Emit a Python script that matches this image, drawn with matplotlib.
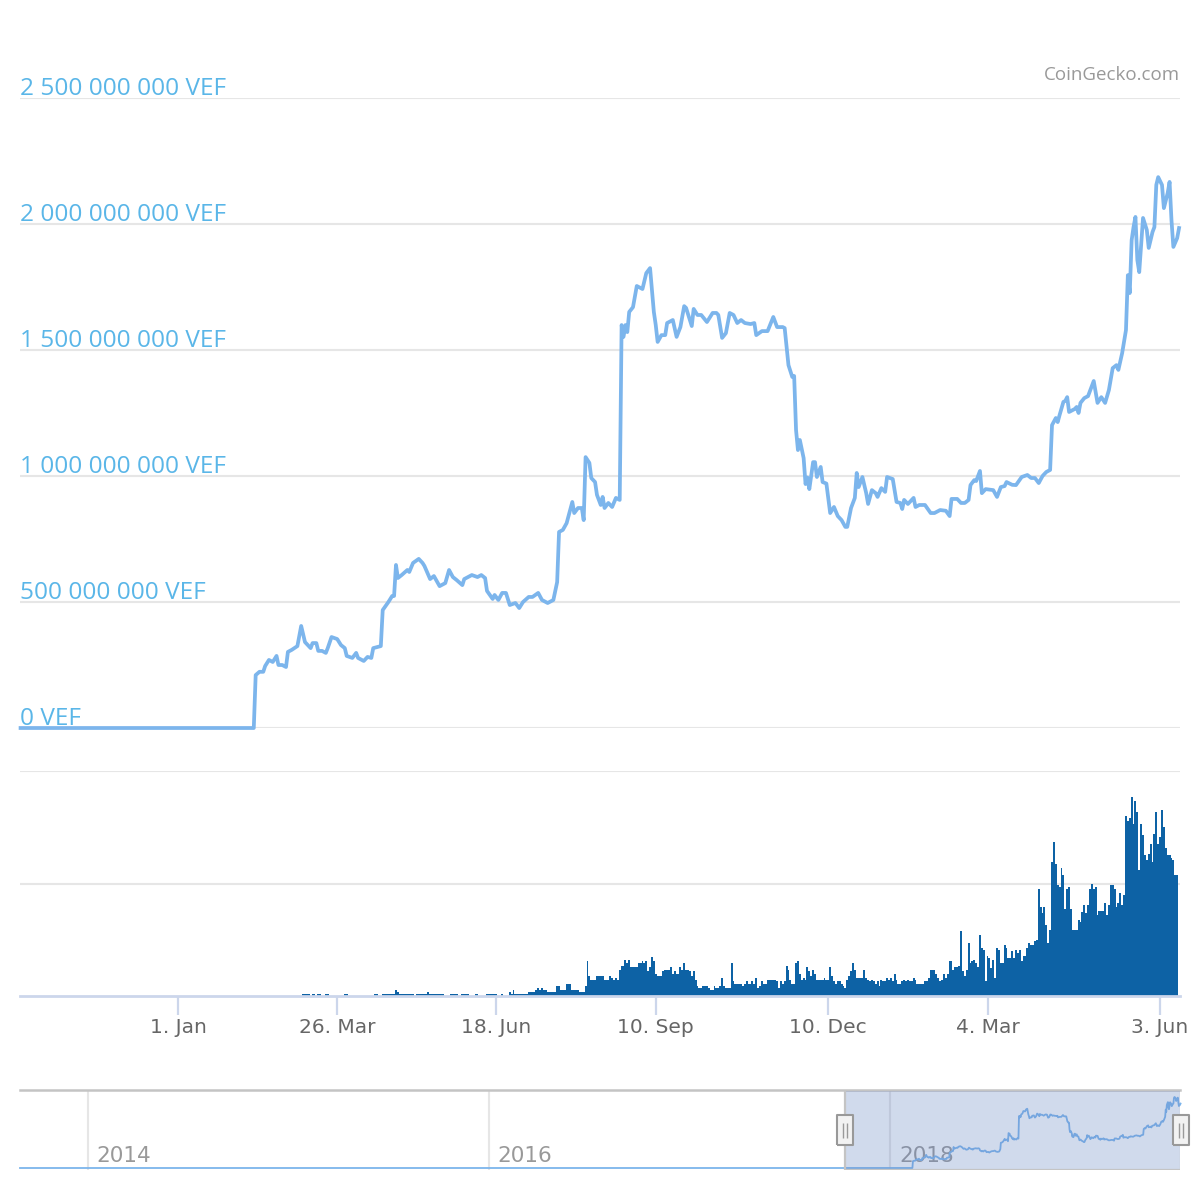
import matplotlib
matplotlib.use("Agg")
import matplotlib.pyplot as plt
import matplotlib.dates as mdates
import pandas as pd
from matplotlib.path import Path
from matplotlib.transforms import blended_transform_factory

plt.rcParams["font.family"] = ["Open Sans", "DejaVu Sans"]

BASE = pd.Timestamp("2018-01-01")

# price: (days after 1 Jan 2018, million VEF)
PRICE_POINTS = [
    (-83, 0), (40, 0), (41, 210), (43, 223), (45, 223), (46, 246), (48, 270), (50, 262),
    (52, 286), (53, 250), (55, 250), (57, 242), (58, 302), (60, 310), (63, 325), (65, 405),
    (67, 341), (70, 317), (71, 337), (73, 337), (74, 306), (76, 306), (78, 298), (79, 317),
    (81, 361), (84, 353), (86, 329), (88, 317), (89, 286), (92, 278), (94, 298), (95, 278),
    (98, 266), (100, 282), (102, 278), (103, 317), (105, 321), (107, 325), (108, 468),
    (111, 500), (113, 524), (114, 524), (115, 647), (116, 595), (118, 607), (121, 627),
    (122, 619), (124, 655), (127, 671), (129, 655), (130, 643), (133, 591), (135, 603),
    (138, 563), (141, 575), (143, 627), (145, 599), (147, 587), (150, 567), (151, 591),
    (155, 607), (158, 599), (160, 607), (162, 595), (163, 544), (166, 512), (167, 528),
    (169, 508), (171, 536), (173, 536), (175, 488), (178, 496), (180, 476), (182, 500),
    (185, 520), (187, 520), (190, 536), (192, 508), (195, 496), (198, 508), (200, 579),
    (201, 778), (203, 786), (205, 813), (208, 897), (209, 853), (211, 873), (213, 873),
    (214, 825), (215, 1075), (217, 1052), (218, 992), (220, 976), (221, 925), (223, 885),
    (224, 917), (225, 873), (227, 893), (229, 877), (231, 913), (233, 905), (234, 1599),
    (235, 1552), (236, 1599), (237, 1571), (238, 1651), (240, 1670), (242, 1754),
    (245, 1742), (247, 1805), (249, 1825), (251, 1651), (252, 1599), (253, 1532),
    (255, 1559), (257, 1559), (258, 1607), (261, 1619), (263, 1552), (265, 1591),
    (267, 1674), (268, 1667), (271, 1595), (272, 1663), (274, 1639), (276, 1639),
    (279, 1611), (282, 1647), (284, 1647), (285, 1639), (287, 1548), (289, 1567),
    (291, 1647), (293, 1639), (295, 1607), (297, 1619), (299, 1607), (302, 1603),
    (304, 1607), (305, 1559), (308, 1575), (311, 1575), (314, 1631), (316, 1591),
    (319, 1591), (320, 1587), (322, 1440), (324, 1393), (325, 1397), (326, 1182),
    (327, 1103), (328, 1143), (330, 1071), (331, 968), (332, 994), (333, 948), (335, 1055),
    (336, 1055), (337, 996), (339, 1036), (340, 976), (342, 970), (344, 853), (346, 877),
    (348, 841), (350, 825), (352, 798), (353, 798), (355, 873), (357, 913), (358, 1012),
    (359, 956), (361, 996), (363, 932), (364, 889), (366, 944), (368, 932), (369, 917),
    (371, 952), (373, 937), (374, 996), (377, 988), (379, 897), (381, 893), (382, 869),
    (383, 905), (385, 889), (388, 913), (389, 877), (391, 885), (394, 885), (397, 853),
    (399, 853), (402, 865), (405, 862), (407, 841), (408, 909), (411, 909), (413, 893),
    (415, 893), (417, 905), (418, 964), (420, 984), (421, 980), (423, 1020), (424, 932),
    (426, 948), (430, 944), (432, 917), (434, 956), (436, 960), (437, 976), (440, 965),
    (442, 964), (445, 996), (448, 1004), (450, 992), (452, 992), (454, 972), (456, 1000),
    (458, 1016), (460, 1024), (461, 1202), (463, 1230), (464, 1214), (465, 1242),
    (467, 1294), (468, 1298), (469, 1313), (470, 1254), (473, 1266), (474, 1274),
    (475, 1250), (476, 1290), (478, 1309), (480, 1317), (483, 1377), (485, 1290),
    (487, 1313), (489, 1290), (491, 1341), (493, 1428), (495, 1440), (496, 1421),
    (498, 1488), (500, 1579), (501, 1797), (502, 1726), (503, 1936), (504, 1988),
    (505, 2028), (506, 1857), (507, 1809), (509, 2024), (511, 1976), (512, 1905),
    (514, 1968), (515, 1988), (516, 2155), (517, 2186), (519, 2155), (520, 2063),
    (522, 2123), (523, 2167), (524, 2016), (525, 1909), (527, 1944), (528, 1984),
]

# daily volume from 8 Mar 2018 (relative units, grid line = 1)
VOL_START = "2018-03-08"
VOLUME = [
    .02, .02, .02, .02, 0, .02, .02, 0, .02, .02, 0, 0, .02, .02, 0, 0, 0, 0, 0, 0, 0, 0,
    .02, .02, 0, 0, 0, 0, 0, 0, 0, 0, 0, 0, 0, 0, 0, 0, .02, .02, 0, 0,
    .02, .02, .02, .02, .02, .02, .02,
    .05, .04, .02, .02, .02, .02, .02, .02, .02, .02, 0, .02, .02, .02, .02, .02, .02, .04,
    .02, .02, .02, .02, .02, .02, .02, .02, 0, 0, 0, .02, .02, .02, .02, 0, 0,
    .02, .02, .02, .02, 0, 0, 0, .02, .02, 0, 0, 0, 0, .02, .02,
    .02, .02, .02, .02, 0, 0, .02, 0, 0, 0, .04, .02, .05, .02, .02, .02, .02, .02, .02,
    .02, .035, .035, .035, .035, .05, .07, .05, .07, .05, .05, .035, .035, .035, .035,
    .035, .09, .09, .05, .05, .05, .11, .11, .11, .05, .05, .05, .05, .035, .035, .035,
    .09, .31, .18, .14, .14, .14, .18, .18, .18, .18,
    .14, .14, .14, .18, .16, .14, .16, .14, .23, .27,
    .27, .32, .29, .32, .26, .26, .26, .26, .29, .29,
    .31, .29, .31, .22, .26, .35, .31, .20, .18, .18,
    .18, .22, .23, .23, .23, .26, .20, .22, .20, .20,
    .26, .23, .29, .23, .23, .22, .18, .22, .14, .09,
    .07, .07, .09, .09, .09, .07, .05, .05, .09, .07,
    .07, .09, .16, .09, .07, .07, .07, .29, .13, .11,
    .11, .11, .11, .09, .11, .13, .11, .11, .13, .11,
    .16, .07, .09, .13, .11, .11, .14, .14, .14, .14,
    .14, .13, .07, .13, .11, .13, .27, .23, .14, .11,
    .11, .29, .31, .20, .14, .16, .14, .26, .22, .18,
    .23, .20, .14, .14, .14, .14, .16, .14, .14, .26,
    .18, .13, .11, .13, .13, .11, .09, .07, .14, .18,
    .22, .29, .23, .16, .16, .16, .16, .23, .16, .14,
    .13, .14, .13, .11, .13, .09, .14, .13, .13, .16,
    .14, .16, .13, .20, .14, .11, .11, .13, .14, .13,
    .14, .13, .13, .16, .14, .11, .11, .11, .11, .13,
    .13, .16, .23, .23, .23, .20, .16, .13, .14, .20,
    .16, .20, .31, .31, .23, .26, .26, .27, .58, .22,
    .18, .23, .47, .29, .31, .32, .29, .26, .54, .43,
    .41, .13, .36, .34, .25, .32, .16, .43, .41, .29,
    .29, .45, .43, .34, .34, .40, .34, .41, .38, .41,
    .31, .36, .36, .43, .47, .45, .45, .49, .50, .95,
    .79, .74, .79, .63, .47, .59, 1.19, 1.37, 1.17, .99,
    .97, 1.14, 1.08, .77, .95, .97, .77, .59, .59, .59,
    .68, .66, .75, .81, .74, .81, .95, 1.0, .95, .97,
    .72, .76, .76, .76, .83, .72, .81, .99, .99, .95,
    .79, .83, .92, .81, .90, 1.60, 1.56, 1.58, 1.77, 1.53,
    1.73, 1.64, 1.12, 1.53, 1.43, 1.25, 1.21, 1.26, 1.35, 1.19,
    1.44, 1.64, 1.35, 1.41, 1.65, 1.50, 1.32, 1.25, 1.25, 1.23, 1.21, 1.08, 1.08,
]

Y_TICKS = [0, 500e6, 1000e6, 1500e6, 2000e6, 2500e6]
Y_LABELS = ["0 VEF", "500 000 000 VEF", "1 000 000 000 VEF", "1 500 000 000 VEF",
            "2 000 000 000 VEF", "2 500 000 000 VEF"]
TICK_DATES = ["2018-01-01", "2018-03-26", "2018-06-18", "2018-09-10", "2018-12-10",
              "2019-03-04", "2019-06-03"]
TICK_LABELS = ["1. Jan", "26. Mar", "18. Jun", "10. Sep", "10. Dec", "4. Mar", "3. Jun"]
NAV_YEARS = ["2014", "2016", "2018"]
NAV_START = "2013-08-31"

VIEW_LO = BASE + pd.Timedelta(days=-83.3)
VIEW_HI = BASE + pd.Timedelta(days=528.5)
NAV_LO = pd.Timestamp(NAV_START)
NAV_HI = pd.Timestamp("2019-06-12")

LINE = "#7cb5ec"
BAR = "#0d62a5"
GRID = "#e6e6e6"
AXIS = "#ccd6eb"
LABEL = "#5ab6e8"
AXFONT = ["DejaVu Sans"]

price_dates = [BASE + pd.Timedelta(days=d) for d, _ in PRICE_POINTS]
price_vals = [v * 1e6 for _, v in PRICE_POINTS]
vol_dates = pd.date_range(VOL_START, periods=len(VOLUME), freq="D")

W = H = 1200
fig = plt.figure(figsize=(12, 12), dpi=100)
L, R = 20 / W, 1180 / W


def box(top, bottom):
    return [L, 1 - bottom / H, R - L, (bottom - top) / H]


# ---- price panel
ax = fig.add_axes(box(98, 728))
ax.set_xlim(VIEW_LO, VIEW_HI)
ax.set_ylim(0, 2.5e9)
for y in Y_TICKS:
    ax.axhline(y, color=GRID, lw=1.5, zorder=1)
ax.plot(price_dates, price_vals, color=LINE, lw=2.7, solid_joinstyle="round",
        clip_on=False, zorder=3)
ytr = blended_transform_factory(ax.transAxes, ax.transData)
for y, lab in zip(Y_TICKS, Y_LABELS):
    ax.annotate(lab, (0, y), xycoords=ytr, xytext=(0, 2.5), textcoords="offset points",
                ha="left", va="baseline", fontsize=17.6, color=LABEL)
ax.set_xticks([])
ax.set_yticks([])
for s in ax.spines.values():
    s.set_visible(False)
fig.text(R, 1 - 80.5 / H, "CoinGecko.com", ha="right", va="baseline",
         fontsize=13.5, color="#999999")

# ---- volume panel
vx = fig.add_axes(box(771, 996))
vx.set_xlim(VIEW_LO, VIEW_HI)
vx.set_ylim(0, 2)
for y in (1, 2):
    vx.axhline(y, color=GRID, lw=1.5, zorder=1)
vx.bar(vol_dates, VOLUME, width=1.0, color=BAR, linewidth=0, antialiased=False, zorder=2)
vx.set_yticks([])
for k in ("left", "right", "top"):
    vx.spines[k].set_visible(False)
vx.spines["bottom"].set_color(AXIS)
vx.spines["bottom"].set_linewidth(2)
vx.set_xticks(pd.to_datetime(TICK_DATES))
vx.set_xticklabels(TICK_LABELS, fontsize=14.5, color="#666666", family=AXFONT)
vx.tick_params(axis="x", length=13.5, width=1.6, color=AXIS, pad=2)

# ---- navigator
nv = fig.add_axes(box(1090, 1170))
nav_dates = [NAV_LO] + price_dates
nav_vals = [0] + price_vals
pmax = max(price_vals)
span = pmax / 0.8875
nv.set_xlim(NAV_LO, NAV_HI)
nv.set_ylim(-0.025 * span, 0.975 * span)
ntr = blended_transform_factory(nv.transData, nv.transAxes)
for yr in NAV_YEARS:
    d = pd.Timestamp(yr + "-01-01")
    nv.axvline(d, color=GRID, lw=1.5, zorder=1)
    nv.annotate(yr, (mdates.date2num(d), 0), xycoords=ntr, xytext=(6.5, 6),
                textcoords="offset points", ha="left", va="baseline",
                fontsize=15.5, color="#999999", family=AXFONT, zorder=2)
nv.plot(nav_dates, nav_vals, color=LINE, lw=1.3, zorder=3, clip_on=False)
nv.axvspan(VIEW_LO, VIEW_HI, facecolor=(102 / 255, 133 / 255, 194 / 255, 0.3),
           edgecolor="#c4c4c4", lw=1.6, zorder=4)
nv.set_xticks([])
nv.set_yticks([])
for k in ("left", "right", "bottom"):
    nv.spines[k].set_visible(False)
nv.spines["top"].set_color("#c4c4c4")
nv.spines["top"].set_linewidth(1.8)

handle = Path([(-8.3, -15.5), (8.3, -15.5), (8.3, 15.5), (-8.3, 15.5), (-8.3, -15.5)])
grip = Path([(-2, -7.5), (-2, 7.5), (2, -7.5), (2, 7.5)],
            [Path.MOVETO, Path.LINETO, Path.MOVETO, Path.LINETO])
for d in (VIEW_LO, VIEW_HI):
    xn = mdates.date2num(d)
    nv.plot([xn], [0.5], marker=handle, ms=22.3, mfc="#f2f2f2", mec="#999999", mew=1.5,
            transform=ntr, clip_on=False, zorder=6)
    nv.plot([xn], [0.5], marker=grip, ms=10.8, mec="#999999", mew=1.0,
            transform=ntr, clip_on=False, zorder=7)

fig.savefig("out.png", dpi=100, facecolor="white")
